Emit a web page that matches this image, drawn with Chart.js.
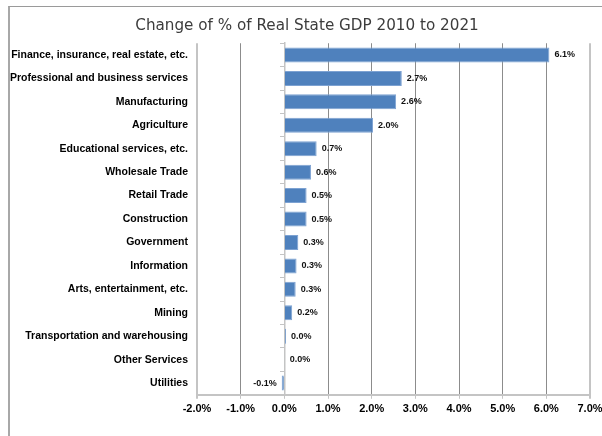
<!DOCTYPE html>
<html>
<head>
<meta charset="utf-8">
<script src="https://cdn.jsdelivr.net/npm/chart.js@4.4.1/dist/chart.umd.min.js"></script>
<style>
    html, body { margin: 0; padding: 0; background: #fff; }
    #wrap { position: relative; width: 602px; height: 436px; overflow: hidden; }
    #frame {
        position: absolute; left: 8px; top: 6px; width: 700px; height: 500px;
        border-left: 2px solid #a8a8a8; border-top: 1px solid #9a9a9a;
    }
    #myChart { position: absolute; left: 0; top: 0; }
</style>
</head>
<body>
<div id="wrap">
    <div id="frame"></div>
    <canvas id="myChart" width="602" height="436"></canvas>
</div>
<script>
var industries = [
    'Finance, insurance, real estate, etc.',
    'Professional and business services',
    'Manufacturing',
    'Agriculture',
    'Educational services, etc.',
    'Wholesale Trade',
    'Retail Trade',
    'Construction',
    'Government',
    'Information',
    'Arts, entertainment, etc.',
    'Mining',
    'Transportation and warehousing',
    'Other Services',
    'Utilities'
];
// percent change per industry
var changePct = [6.07, 2.69, 2.56, 2.03, 0.74, 0.61, 0.51, 0.51, 0.32, 0.28, 0.26, 0.18, 0.04, 0.01, -0.06];
var axisMin = -2;
var axisMax = 7;

var labelFont = 'Liberation Sans, Arial, sans-serif';

function pctText(v) {
    return v.toFixed(1) + '%';
}

// writes the value next to the end of every bar
var barValues = {
    id: 'barValues',
    afterDatasetsDraw: function (chart) {
        var ctx = chart.ctx;
        var meta = chart.getDatasetMeta(0);
        ctx.save();
        ctx.font = 'bold 9px ' + labelFont;
        ctx.fillStyle = '#111';
        ctx.textBaseline = 'middle';
        for (var i = 0; i < meta.data.length; i++) {
            var bar = meta.data[i];
            var v = changePct[i];
            if (v < 0) {
                ctx.textAlign = 'right';
                ctx.fillText(pctText(v), bar.x - 5, bar.y);
            } else {
                ctx.textAlign = 'left';
                ctx.fillText(pctText(v), bar.x + 5, bar.y);
            }
        }
        ctx.restore();
    }
};

// the long category names run past the left padding, so widen the label clip
var wideLabels = {
    id: 'wideLabels',
    afterLayout: function (chart) {
        chart.scales.y.left = 0;
    }
};

var lightLine = '#c4c4c4';
var gridLine = '#8c8c8c';

var myChart = new Chart(document.getElementById('myChart').getContext('2d'), {
    type: 'bar',
    data: {
        labels: industries,
        datasets: [
            {
                label: 'Change',
                data: changePct,
                backgroundColor: '#4f81bd',
                borderColor: '#7da2d2',
                borderWidth: 1,
                barPercentage: 0.8,
                categoryPercentage: 0.8,
                xAxisID: 'x',
                yAxisID: 'y'
            }
        ]
    },
    options: {
        indexAxis: 'y',
        responsive: false,
        animation: false,
        layout: {
            padding: { left: 24, right: 12, top: 0, bottom: 16 }
        },
        plugins: {
            legend: { display: false },
            tooltip: { enabled: false },
            title: {
                display: true,
                text: 'Change of % of Real State GDP 2010 to 2021',
                color: '#3c3c3c',
                font: { family: 'DejaVu Sans', size: 15.2, weight: 'normal' },
                padding: { top: 17, bottom: 8 }
            }
        },
        scales: {
            x: {
                min: axisMin,
                max: axisMax,
                ticks: {
                    stepSize: 1,
                    color: '#000',
                    padding: 4,
                    font: { family: labelFont, size: 11, weight: 'bold' },
                    callback: function (v) { return pctText(v); }
                },
                grid: {
                    color: function (c) {
                        var v = c.tick ? c.tick.value : null;
                        if (v === axisMin || v === axisMax || v === 0) return lightLine;
                        return gridLine;
                    },
                    lineWidth: function (c) {
                        var v = c.tick ? c.tick.value : null;
                        return (v === axisMin || v === axisMax) ? 2 : 1;
                    },
                    tickColor: lightLine,
                    tickLength: 4
                },
                border: { color: lightLine, width: 2 },
                afterFit: function (scale) {
                    scale.paddingLeft = 0;
                    scale.paddingRight = 0;
                }
            },
            y: {
                type: 'category',
                position: 'left',
                grid: { display: false, drawTicks: false },
                border: { display: false },
                ticks: {
                    color: '#000',
                    padding: 9,
                    font: { family: labelFont, size: 10.5, weight: 'bold' }
                },
                afterFit: function (scale) {
                    scale.width = 173;
                }
            },
            // the 0% line with its small category ticks
            zero: {
                type: 'category',
                axis: 'y',
                position: { x: 0 },
                offset: true,
                ticks: { display: false },
                grid: {
                    offset: true,
                    drawOnChartArea: false,
                    color: lightLine,
                    tickLength: 4
                },
                border: { color: lightLine, width: 1.5 }
            }
        }
    },
    plugins: [barValues, wideLabels]
});
</script>
</body>
</html>
